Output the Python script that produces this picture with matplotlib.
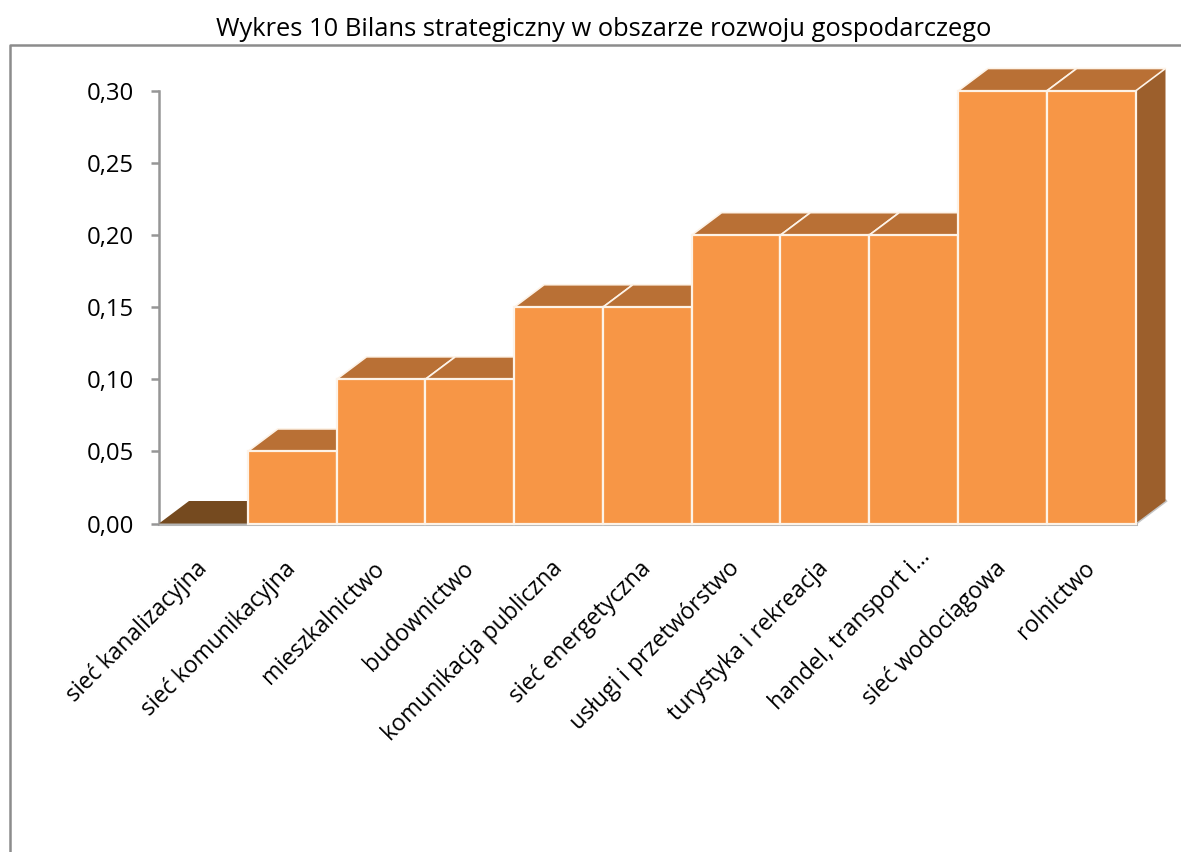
import matplotlib
matplotlib.use("Agg")
import matplotlib.pyplot as plt
from matplotlib.patches import Polygon, Rectangle
from matplotlib.lines import Line2D
from matplotlib.transforms import Affine2D

plt.rcParams['font.family'] = ['Open Sans', 'DejaVu Sans']

categories = ["sieć kanalizacyjna", "sieć komunikacyjna", "mieszkalnictwo", "budownictwo",
              "komunikacja publiczna", "sieć energetyczna", "usługi i przetwórstwo",
              "turystyka i rekreacja", "handel, transport i…", "sieć wodociągowa", "rolnictwo"]
values = [0.00, 0.05, 0.10, 0.10, 0.15, 0.15, 0.20, 0.20, 0.20, 0.30, 0.30]
yticks = [0.00, 0.05, 0.10, 0.15, 0.20, 0.25, 0.30]
title = "Wykres 10 Bilans strategiczny w obszarze rozwoju gospodarczego"

W, H = 1181, 852
fig = plt.figure(figsize=(W/100, H/100), dpi=100, facecolor='white')
x0, x1, ytop, ybot = 159, 1135.5, 91, 523.5
ax = fig.add_axes([x0/W, 1-ybot/H, (x1-x0)/W, (ybot-ytop)/H])
ax.set_xlim(0, len(values))
ax.set_ylim(0, 0.30)
ax.patch.set_alpha(0)
for s in ['top', 'right']:
    ax.spines[s].set_visible(False)
for s in ['left', 'bottom']:
    ax.spines[s].set_color('#969696')
    ax.spines[s].set_linewidth(1.8)
    ax.spines[s].set_zorder(1)

dx = 30/((x1-x0)/len(values))
dy = 22.5/((ybot-ytop)/0.30)
front, top_c, side, dark = '#F79646', '#B97035', '#9C5F2C', '#754A1F'
edge = '#FDF3E8'

ax.add_line(Line2D([len(values), len(values)+dx], [0, dy], color='#c4c4c4', lw=2.2,
                   clip_on=False, zorder=1.5))
ax.add_line(Line2D([0.0, len(values)], [0, 0], color='#b5b5b5', lw=2.2, clip_on=False, zorder=1.5))

for i, v in enumerate(values):
    z = 2 + i*0.1
    ax.add_patch(Polygon([(i+1, 0), (i+1+dx, dy), (i+1+dx, v+dy), (i+1, v)], closed=True,
                         facecolor=side, edgecolor='none', clip_on=False, zorder=z))
    ax.add_patch(Polygon([(i, v), (i+dx, v+dy), (i+1+dx, v+dy), (i+1, v)], closed=True,
                         facecolor=dark if v == 0 else top_c,
                         edgecolor=edge if v > 0 else 'none', lw=1.2, joinstyle='round',
                         clip_on=False, zorder=z))
    if v > 0:
        ax.add_patch(Rectangle((i, 0), 1, v, facecolor=front, edgecolor=edge, lw=1.6,
                               clip_on=False, zorder=z+0.05))

ax.set_yticks(yticks)
ax.set_yticklabels([f"{t:.2f}".replace('.', ',') for t in yticks], fontsize=17.2, color='black')
ax.tick_params(axis='y', length=6, width=1.8, color='#969696', pad=12)
ax.set_xticks([i+0.5 for i in range(len(values))])
ax.set_xticklabels(categories, rotation=45, ha='right', va='top', rotation_mode='anchor',
                   fontsize=16.6, color='black')
ax.tick_params(axis='x', length=0, pad=24)
for i, lab in enumerate(ax.get_xticklabels()):
    shift = (5, 12) if i == 8 else (-8, 0)
    lab.set_transform(lab.get_transform() + Affine2D().translate(*shift))

fig.add_artist(Line2D([10/W, 10/W, 1], [0, 1-45/H, 1-45/H], color='#8c8c8c', lw=1.8))
fig.text(604/W, 1-29/H, title, ha='center', va='center', fontsize=18.4, color='black')

fig.savefig('out.png', dpi=100, facecolor='white')
